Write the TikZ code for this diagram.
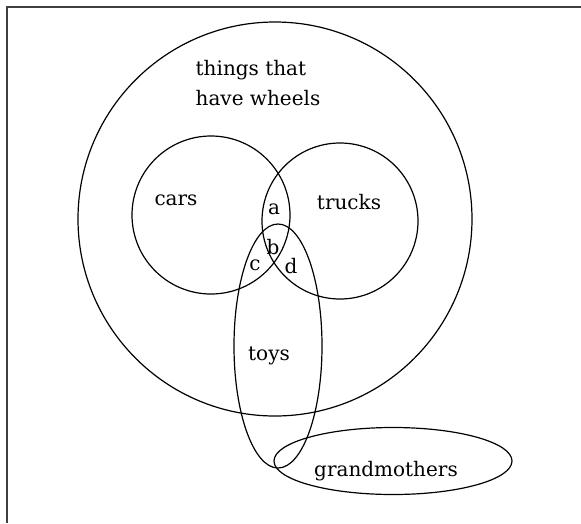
\documentclass[tikz,border=0pt]{standalone}
\usepackage{fontspec}
\setmainfont{DejaVu Serif}
\usetikzlibrary{shapes.geometric}
\tikzset{
  setcircle/.style={draw, circle, line width=1.2pt, inner sep=0pt},
  setoval/.style={draw, ellipse, line width=1.2pt, inner sep=0pt},
  setlabel/.style={inner sep=0pt, font=\fontsize{20}{30}\selectfont},
  frameline/.style={draw=black!75, line width=2pt}
}
\begin{document}
\begin{tikzpicture}[x=1pt,y=-1pt]
    \useasboundingbox (0,0) rectangle (581,523);
    \coordinate (fbl) at (7,523);
    \coordinate (ftl) at (7,7);
    \coordinate (ftr) at (581,7);
    \draw[frameline] (fbl) -- (ftl) -- (ftr);
    % the sets
    \node[setcircle, minimum size=394pt] (wheels) at (275,219) {};
    \node[setcircle, minimum size=158pt] (cars) at (211,215) {};
    \node[setcircle, minimum size=156pt] (trucks) at (340,221) {};
    \node[setoval, minimum width=88pt, minimum height=244pt] (toys) at (278,346) {};
    \node[setoval, minimum width=238pt, minimum height=67pt] (grandmas) at (393,461) {};
    % labels
    \node[setlabel, align=left] (wheelstext) at (258,83) {things that\\have wheels};
    \node[setlabel] (carstext) at (176,200) {cars};
    \node[setlabel] (truckstext) at (349,202) {trucks};
    \node[setlabel] (ra) at (274,209) {a};
    \node[setlabel] (rb) at (273,247) {b};
    \node[setlabel] (rc) at (255,265) {c};
    \node[setlabel] (rd) at (291,266) {d};
    \node[setlabel] (toystext) at (269,356) {toys};
    \node[setlabel] (grandmastext) at (386,471) {grandmothers};
  \end{tikzpicture}
\end{document}
